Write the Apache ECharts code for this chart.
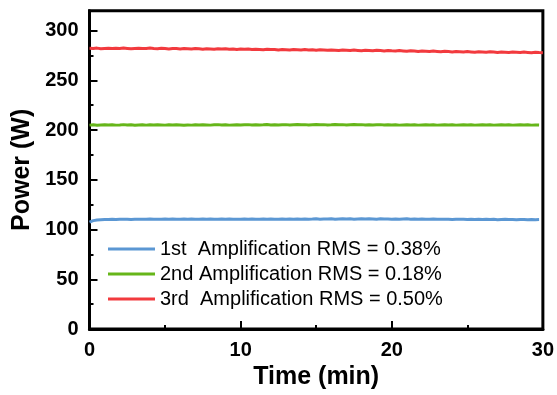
<!DOCTYPE html>
<html lang="en">
<head>
    <meta charset="UTF-8">
    <title>power stability</title>
    <script src="https://cdn.jsdelivr.net/npm/echarts@6/dist/echarts.min.js"></script>
    <style>
        html, body { margin: 0; padding: 0; background: #fff; }
    </style>
</head>
<body>
<div id="chart" style="width: 557px;height:395px;"></div>
<script type="text/javascript">
    // sampling step of the recordings (min)
    var step = 0.25;

    var seriesNames = ['1st  Amplification RMS = 0.38%', '2nd Amplification RMS = 0.18%', '3rd  Amplification RMS = 0.50%'];
    var yTicks = [0, 50, 100, 150, 200, 250, 300];
    var yMinorTicks = [25, 75, 125, 175, 225, 275];

    var amp1 = [107.6, 109.0, 109.7, 110.0, 110.2, 110.1, 110.3, 110.2, 110.4, 110.3, 110.5, 110.2, 110.4, 110.3, 110.5, 110.4, 110.6, 110.3, 110.5, 110.4, 110.6,
        110.4, 110.6, 110.3, 110.5, 110.7, 110.4, 110.6, 110.5, 110.3, 110.6, 110.4, 110.7, 110.5, 110.3, 110.6, 110.4, 110.6, 110.5, 110.3,
        110.5, 110.7, 110.4, 110.6, 110.3, 110.5, 110.7, 110.4, 110.6, 110.5, 110.3, 110.6, 110.4, 110.7, 110.5, 110.6, 110.4, 110.7, 110.5, 110.6,
        110.8, 110.5, 110.7, 110.6, 110.8, 110.5, 110.7, 110.9, 110.6, 110.8, 110.5, 110.7, 110.9, 110.6, 110.8, 110.7, 110.5, 110.8, 110.6, 110.7,
        110.5, 110.7, 110.4, 110.6, 110.8, 110.5, 110.7, 110.4, 110.6, 110.5, 110.3, 110.6, 110.4, 110.5, 110.3, 110.5, 110.2, 110.4, 110.3, 110.5,
        110.2, 110.4, 110.1, 110.3, 110.2, 110.4, 110.1, 110.3, 110.0, 110.2, 110.3, 110.1, 110.2, 110.0, 110.2, 110.1, 109.9, 110.1, 110.0, 110.1];

    var amp2 = [205.0, 205.3, 204.9, 205.2, 205.4, 205.1, 205.3, 205.0, 205.2, 205.5, 205.1, 205.3, 204.9, 205.2, 205.4, 205.0, 205.3, 205.1, 205.4, 205.2, 205.0,
        205.3, 205.1, 205.4, 205.2, 204.9, 205.2, 205.0, 205.3, 205.1, 205.4, 205.2, 205.0, 205.3, 205.5, 205.1, 205.3, 205.0, 205.2, 205.4,
        205.1, 205.3, 205.5, 205.2, 205.4, 205.1, 205.3, 205.6, 205.2, 205.4, 205.1, 205.3, 205.5, 205.2, 205.4, 205.6, 205.3, 205.5, 205.2, 205.4,
        205.6, 205.3, 205.5, 205.2, 205.4, 205.7, 205.3, 205.5, 205.2, 205.4, 205.6, 205.3, 205.5, 205.2, 205.4, 205.1, 205.3, 205.5, 205.2, 205.4,
        205.1, 205.3, 205.0, 205.2, 205.4, 205.1, 205.3, 205.0, 205.2, 205.4, 205.1, 205.3, 205.0, 205.2, 205.4, 205.1, 205.3, 205.0, 205.2, 205.3,
        205.1, 205.3, 205.0, 205.2, 205.4, 205.1, 205.3, 205.0, 205.2, 205.4, 205.1, 205.3, 205.0, 205.2, 205.4, 205.1, 205.3, 205.0, 205.2, 205.1];

    var amp3 = [282.2, 282.0, 282.4, 281.8, 282.1, 282.3, 281.9, 282.2, 282.0, 282.5, 282.1, 281.7, 282.0, 282.3, 281.9, 282.1, 282.4, 282.0, 281.8, 282.2, 282.0,
        281.6, 282.1, 281.9, 281.5, 282.0, 281.8, 281.4, 281.9, 281.7, 281.3, 281.8, 281.6, 281.2, 281.7, 281.5, 281.8, 281.3, 281.6, 281.1, 281.5,
        281.2, 281.4, 280.9, 281.3, 281.0, 280.7, 281.2, 280.9, 281.1, 280.6, 281.0, 280.8, 280.5, 281.0, 280.7, 280.4, 280.9, 280.6, 280.8, 280.3,
        280.7, 280.5, 280.2, 280.6, 280.3, 280.0, 280.5, 280.2, 279.9, 280.4, 280.1, 279.8, 280.3, 280.0, 279.7, 280.2, 279.9, 279.6, 280.0, 279.7,
        279.5, 279.9, 279.6, 279.2, 279.7, 279.4, 279.0, 279.5, 279.2, 278.9, 279.4, 279.1, 278.7, 279.2, 278.9, 278.6, 279.1, 278.8, 278.5, 278.9,
        278.6, 278.3, 278.8, 278.5, 278.2, 278.7, 278.4, 278.1, 278.6, 278.3, 278.0, 278.5, 278.2, 277.9, 278.4, 278.1, 277.8, 278.3, 278.0, 277.8];

    var colors = ['#5b97d3', '#66b61a', '#f23a3e'];
    var font = 'Arial, "Liberation Sans", sans-serif';

    function pairs(values) {
        var out = [];
        for (var i = 0; i < values.length; i++) {
            out.push([i * step, values[i]]);
        }
        return out;
    }

    var myChart = echarts.init(document.getElementById('chart'));
    var option = {
        animation: false,
        color: colors,
        grid: {
            left: 89.5, right: 14, top: 10.7, bottom: 65,
            show: true, borderColor: '#000', borderWidth: 3
        },
        legend: {
            orient: 'vertical',
            left: 108, top: 239,
            padding: 0,
            icon: 'rect',
            itemWidth: 47, itemHeight: 3,
            itemGap: 5,
            textStyle: {fontFamily: font, fontSize: 20, lineHeight: 20, color: '#000'},
            data: seriesNames
        },
        xAxis: {
            type: 'value',
            min: 0, max: 30, interval: 10,
            name: 'Time (min)',
            nameLocation: 'middle',
            nameGap: 34,
            nameTextStyle: {fontFamily: font, fontSize: 25, fontWeight: 'bold', color: '#000'},
            axisLine: {lineStyle: {color: '#000', width: 3}},
            axisTick: {inside: true, length: 8, lineStyle: {color: '#000', width: 2}},
            minorTick: {show: true, splitNumber: 2, length: 4, lineStyle: {color: '#000', width: 2}},
            splitLine: {show: false},
            axisLabel: {fontFamily: font, fontSize: 20, fontWeight: 'bold', color: '#000', margin: 11}
        },
        yAxis: [{
            type: 'value',
            min: 0, max: 320,
            name: 'Power (W)',
            nameLocation: 'middle',
            nameGap: 54,
            nameTextStyle: {fontFamily: font, fontSize: 25, fontWeight: 'bold', color: '#000'},
            axisLine: {show: true, lineStyle: {color: '#000', width: 3}},
            axisTick: {show: true, inside: true, length: 8, customValues: yTicks, lineStyle: {color: '#000', width: 2}},
            splitLine: {show: false},
            axisLabel: {customValues: yTicks, fontFamily: font, fontSize: 20, fontWeight: 'bold', color: '#000', margin: 11}
        }, {
            type: 'value',
            position: 'left',
            min: 0, max: 320,
            axisLine: {show: false},
            axisTick: {show: true, inside: true, length: 4, customValues: yMinorTicks, lineStyle: {color: '#000', width: 2}},
            splitLine: {show: false},
            axisLabel: {show: false}
        }],
        series: [{
            name: seriesNames[0], type: 'line', showSymbol: false,
            lineStyle: {width: 3}, data: pairs(amp1)
        }, {
            name: seriesNames[1], type: 'line', showSymbol: false,
            lineStyle: {width: 3}, data: pairs(amp2)
        }, {
            name: seriesNames[2], type: 'line', showSymbol: false,
            lineStyle: {width: 3}, data: pairs(amp3)
        }]
    };

    myChart.setOption(option);
</script>
</body>
</html>
